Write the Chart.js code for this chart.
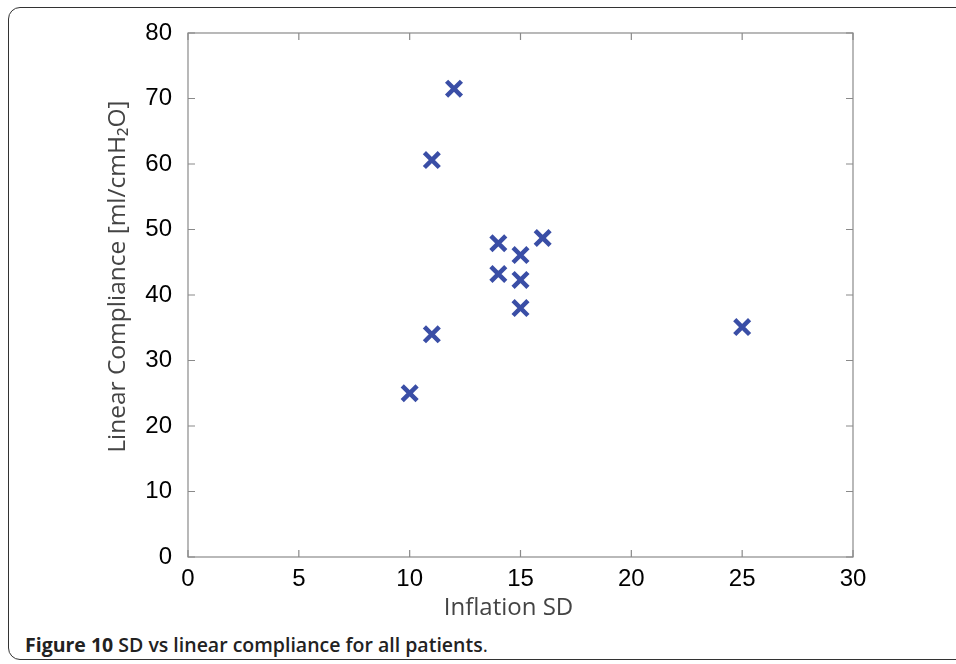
<!DOCTYPE html>
<html>
<head>
<meta charset="utf-8">
<script src="https://cdn.jsdelivr.net/npm/chart.js@4.4.1/dist/chart.umd.min.js"></script>
<style>
  html, body { margin: 0; padding: 0; background: #fff; }
  body { width: 956px; height: 664px; position: relative; overflow: hidden; }
  #frame {
    position: absolute; left: 8px; top: 7px; width: 960px; height: 653px;
    border: 1.5px solid #333; border-radius: 12px; box-sizing: border-box;
  }
  #wrap { position: absolute; left: 0; top: 0; width: 956px; height: 625px; }
  #caption {
    position: absolute; left: 25px; top: 635px; white-space: nowrap;
    font-family: "Open Sans", sans-serif; font-size: 19.5px; line-height: 20px; color: #222;
  }
  #caption b { font-weight: 700; }
  #caption span { font-weight: 600; }
</style>
</head>
<body>
<div id="frame"></div>
<div id="wrap"><canvas id="myChart" width="956" height="625"></canvas></div>
<div id="caption"><b>Figure 10</b> <span>SD vs linear compliance for all patients</span>.</div>
<script>
/* datos */
const inflationSD = [10, 11, 11, 12, 14, 14, 15, 15, 15, 16, 25];
const linearCompliance = [25, 34, 60.6, 71.5, 47.9, 43.2, 46.1, 42.3, 38.0, 48.7, 35.1];
const xTicks = [0, 5, 10, 15, 20, 25, 30];
const yTicks = [0, 10, 20, 30, 40, 50, 60, 70, 80];

const puntos = inflationSD.map((x, i) => ({ x: x, y: linearCompliance[i] }));

/* marco y ticks hacia adentro */
const marcoPlugin = {
  id: 'marco',
  afterDraw(chart) {
    const c = chart.ctx, a = chart.chartArea;
    const sx = chart.scales.x, sy = chart.scales.y;
    c.save();
    c.strokeStyle = '#8a8a8a';
    c.lineWidth = 1.2;
    c.strokeRect(a.left, a.top, a.right - a.left, a.bottom - a.top);
    c.beginPath();
    xTicks.forEach(v => {
      const px = sx.getPixelForValue(v);
      c.moveTo(px, a.bottom); c.lineTo(px, a.bottom - 7);
      c.moveTo(px, a.top); c.lineTo(px, a.top + 7);
    });
    yTicks.forEach(v => {
      const py = sy.getPixelForValue(v);
      c.moveTo(a.left, py); c.lineTo(a.left + 7, py);
      c.moveTo(a.right, py); c.lineTo(a.right - 7, py);
    });
    c.stroke();
    c.restore();
  }
};

const ctx = document.getElementById('myChart').getContext('2d');

let chart = new Chart(ctx, {
  type: 'scatter',
  data: {
    datasets: [{
      data: puntos,
      pointStyle: 'crossRot',
      pointRadius: 10.5,
      pointHoverRadius: 10.5,
      borderWidth: 4.5,
      borderColor: '#3a4ea6',
      backgroundColor: '#3a4ea6'
    }]
  },
  options: {
    responsive: false,
    animation: false,
    layout: { padding: { top: 33, right: 103, left: 0, bottom: 0 } },
    plugins: { legend: { display: false }, tooltip: { enabled: false } },
    scales: {
      x: {
        type: 'linear', min: 0, max: 30,
        afterBuildTicks: s => { s.ticks = xTicks.map(v => ({ value: v })); },
        afterFit: s => { s.height = 625 - 557; },
        grid: { display: false },
        border: { display: false },
        ticks: { color: '#000', padding: 0, font: { family: 'Liberation Sans', size: 24 } },
        title: { display: true, text: 'Inflation SD\u2002\u2002', color: '#444', padding: { top: 0, bottom: 2 },
                 font: { family: 'Open Sans', size: 24 } }
      },
      y: {
        type: 'linear', min: 0, max: 80,
        afterBuildTicks: s => { s.ticks = yTicks.map(v => ({ value: v })); },
        afterFit: s => { s.width = 188; },
        grid: { display: false },
        border: { display: false },
        ticks: { color: '#000', padding: 8, font: { family: 'Liberation Sans', size: 24 } },
        title: { display: true, text: '\u2002\u2002\u2002Linear Compliance [ml/cmH\u2082O]', color: '#444',
                 padding: { top: 103, bottom: 0 },
                 font: { family: 'Open Sans', size: 24.5 } }
      }
    }
  },
  plugins: [marcoPlugin]
});
</script>
</body>
</html>
